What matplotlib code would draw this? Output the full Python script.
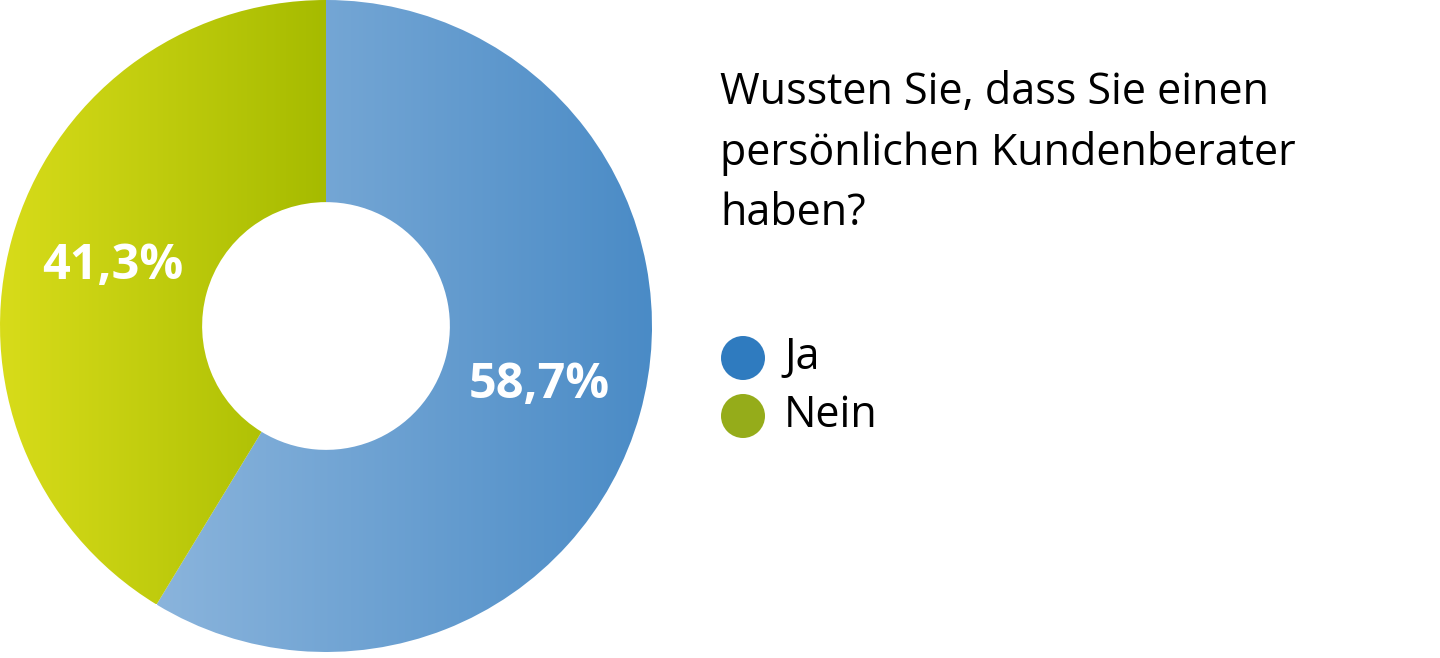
import numpy as np
import matplotlib
matplotlib.use("Agg")
import matplotlib.pyplot as plt
from matplotlib.colors import LinearSegmentedColormap
from matplotlib.patches import Circle

# data
labels = ["Ja", "Nein"]
values = [58.7, 41.3]
legend_colors = ["#2f7bbf", "#95ac1a"]
grad_colors = [("#8ab4dc", "#4a8bc6"), ("#d8dc1a", "#a6bb00")]
question = "Wussten Sie, dass Sie einen\npersönlichen Kundenberater\nhaben?"

plt.rcParams["font.family"] = ["Open Sans", "DejaVu Sans"]

fig = plt.figure(figsize=(14.4, 6.58), dpi=100)

# donut
ax = fig.add_axes([0, 6 / 658, 652 / 1440, 652 / 658])
wedges, texts, autotexts = ax.pie(
    values, startangle=90, counterclock=False, radius=1,
    wedgeprops=dict(width=0.62, linewidth=0),
    autopct=lambda p: f"{p:.1f}".replace(".", ",") + "%",
    pctdistance=0.68,
    textprops=dict(color="white", fontsize=35, fontweight="bold"),
)
ax.set_xlim(-1, 1)
ax.set_ylim(-1, 1)
ax.set_aspect("equal")
ax.axis("off")

fig.canvas.draw()
grad = np.linspace(0, 1, 256).reshape(1, -1)
for w, (c0, c1) in zip(wedges, grad_colors):
    bb = w.get_path().get_extents(w.get_patch_transform())
    cmap = LinearSegmentedColormap.from_list("g", [c0, c1])
    im = ax.imshow(grad, cmap=cmap, aspect="auto",
                   extent=[bb.x0, bb.x1, bb.y0, bb.y1], zorder=w.get_zorder())
    im.set_clip_path(w)
    w.set_facecolor("none")
for t in autotexts:
    t.set_zorder(5)
ax.set_xlim(-1, 1)
ax.set_ylim(-1, 1)

# text area in pixel coordinates
tx = fig.add_axes([0, 0, 1, 1], facecolor="none")
tx.set_xlim(0, 1440)
tx.set_ylim(658, 0)
tx.axis("off")

tx.text(720, 153, question, fontsize=31, color="black", va="center",
        ha="left", linespacing=1.47)

for i, (lab, col) in enumerate(zip(labels, legend_colors)):
    y = 358 + i * 58
    tx.add_patch(Circle((743, y), 22, color=col, lw=0))
    tx.text(784, y, lab, fontsize=31, va="center", ha="left", color="black")

fig.savefig("out.png", dpi=100)
